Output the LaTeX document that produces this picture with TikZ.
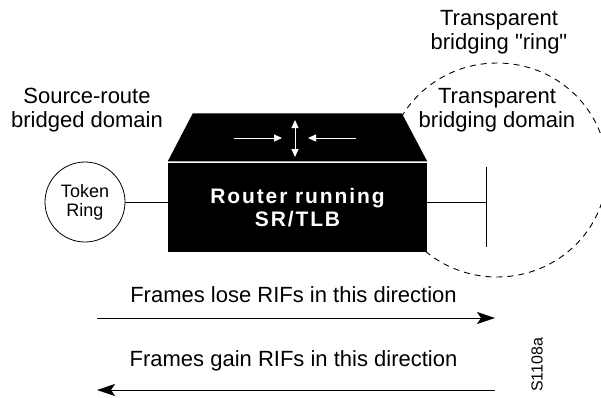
\documentclass[tikz,border=0pt]{standalone}
\usepackage{fontspec}
\setmainfont{Liberation Sans}[Ligatures=TeXOff]
\usetikzlibrary{arrows.meta}
\usetikzlibrary{positioning}

\begin{document}
\begin{tikzpicture}[x=1pt,y=-1pt,
  domtext/.style={align=center, font=\fontsize{22}{23.5}\selectfont},
  flow/.style={line width=1pt, -{Stealth[length=18pt,width=12pt,inset=4pt]}},
  turn/.style={white, line width=1pt, {Triangle[length=8pt,width=7pt]}-{Triangle[length=8pt,width=7pt]}}]

\useasboundingbox (0,0) rectangle (601,397);

% dashed ring of the transparent side
\draw[dash pattern=on 6pt off 5pt, line width=0.9pt] (497,170) ellipse [x radius=110, y radius=107];

\node[rectangle, fill=black, minimum width=259pt, minimum height=89pt, inner sep=0pt, text=white, align=center, font=\bfseries\fontsize{21}{23}\selectfont\addfontfeatures{LetterSpace=9}] (router) at (297.5,207.5) {Router running\\SR/TLB};
\fill ([yshift=1.5pt]router.north west) -- ++(25,-48) -- ++(209,0) -- ([yshift=1.5pt]router.north east) -- cycle;

\coordinate (hub) at (295,138);
\draw[turn, -{Triangle[length=8pt,width=7pt]}] ([shift={(-61,0)}]hub) -- ([shift={(-13,0)}]hub);
\draw[turn, -{Triangle[length=8pt,width=7pt]}] ([shift={(61,0)}]hub) -- ([shift={(13,0)}]hub);
\draw[turn] ([shift={(0,-18)}]hub) -- ([shift={(0,19)}]hub);

\node[circle, draw, line width=0.8pt, minimum size=80pt, inner sep=0pt, align=center, font=\fontsize{18}{19}\selectfont] (ring) at (85,202) {Token\\Ring};
\draw[line width=0.8pt] (ring.east) -- (ring.east -| router.west);

\coordinate (lan) at (486,202);
\draw[line width=0.8pt] (router.east |- lan) -- (lan);
\draw[line width=0.8pt] ([shift={(0,-35)}]lan) -- ([shift={(0,45)}]lan);

\node[domtext] (srb) at (87,110) {Source-route\\bridged domain};
\node[domtext] (tbd) at (497,110) {Transparent\\bridging domain};
\node[domtext] (tbr) at (499,32) {Transparent\\bridging "ring"};

\node[domtext, anchor=base] (lose) at (293.5,302) {Frames lose RIFs in this direction};
\node[domtext, anchor=base] (gain) at (293.5,366) {Frames gain RIFs in this direction};
\coordinate (loseL) at (97,318);
\coordinate (loseR) at (495,318);
\coordinate (gainL) at (97,390);
\coordinate (gainR) at (495,390);
\draw[flow] (loseL) -- (loseR);
\draw[flow] (gainR) -- (gainL);

\node[rotate=90, font=\fontsize{16}{16}\selectfont] (tag) at (537,365) {S1108a};
\end{tikzpicture}
\end{document}
